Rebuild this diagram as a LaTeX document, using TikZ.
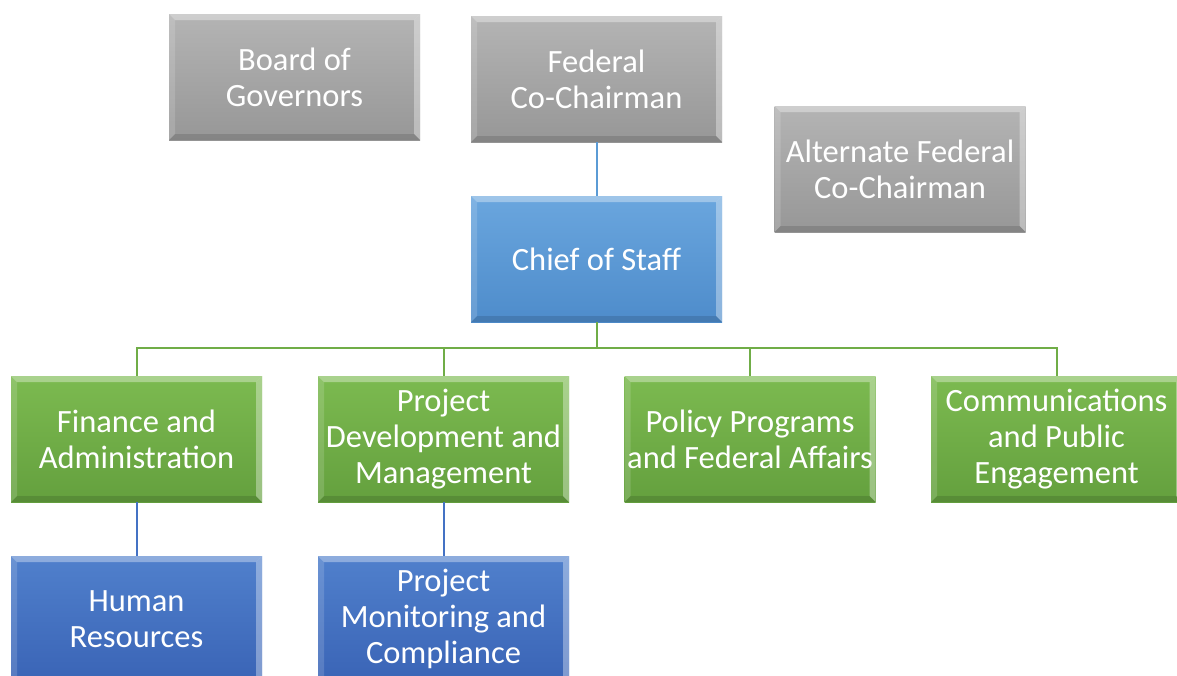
\documentclass[tikz,border=0pt]{standalone}
\usepackage{fontspec}
\setmainfont{Carlito}
\definecolor{grayT}{HTML}{B4B4B4}
\definecolor{grayB}{HTML}{979797}
\definecolor{lblueT}{HTML}{6AA6DE}
\definecolor{lblueB}{HTML}{4E8CCB}
\definecolor{greenT}{HTML}{7CBA50}
\definecolor{greenB}{HTML}{64A03E}
\definecolor{dblueT}{HTML}{5080CC}
\definecolor{dblueB}{HTML}{3A64B6}
\definecolor{lineblue}{HTML}{5B9BD5}
\definecolor{linegreen}{HTML}{70AD47}
\definecolor{linedblue}{HTML}{4472C4}
\tikzset{
  orgbox/.style={rectangle, minimum width=251pt, minimum height=126pt, inner sep=0pt,
    align=center, text=white, font=\fontsize{32.5}{36}\selectfont,
    path picture={
      \fill[white,opacity=0.35] (path picture bounding box.north west) -- (path picture bounding box.north east)
        -- ([xshift=-6pt,yshift=-6pt]path picture bounding box.north east) -- ([xshift=6pt,yshift=-6pt]path picture bounding box.north west) -- cycle;
      \fill[white,opacity=0.15] (path picture bounding box.north west) -- ([xshift=6pt,yshift=-6pt]path picture bounding box.north west)
        -- ([xshift=6pt,yshift=6pt]path picture bounding box.south west) -- (path picture bounding box.south west) -- cycle;
      \fill[white,opacity=0.35] (path picture bounding box.north east) -- ([xshift=-6pt,yshift=-6pt]path picture bounding box.north east)
        -- ([xshift=-6pt,yshift=6pt]path picture bounding box.south east) -- (path picture bounding box.south east) -- cycle;
      \fill[black,opacity=0.12] (path picture bounding box.south west) -- ([xshift=6pt,yshift=6pt]path picture bounding box.south west)
        -- ([xshift=-6pt,yshift=6pt]path picture bounding box.south east) -- (path picture bounding box.south east) -- cycle;
    }},
  graybox/.style={orgbox, top color=grayT, bottom color=grayB},
  lbluebox/.style={orgbox, top color=lblueT, bottom color=lblueB},
  greenbox/.style={orgbox, top color=greenT, bottom color=greenB},
  dbluebox/.style={orgbox, top color=dblueT, bottom color=dblueB},
  conn/.style={line width=2pt}
}
\begin{document}
\begin{tikzpicture}[x=1pt,y=-1pt]
\useasboundingbox (0,0) rectangle (1177,675);
\clip (0,0) rectangle (1177,675);
\fill[white] (0,0) rectangle (1177,675);
\node[graybox] (bog) at (294.5,77) {Board of\\Governors};
\node[graybox] (fcc) at (596.5,79) {Federal\\Co-Chairman};
\node[graybox] (afcc) at (900,169) {Alternate Federal\\Co-Chairman};
\node[lbluebox] (cos) at (596.5,259) {Chief of Staff};
\node[greenbox] (fa) at (136.5,439) {Finance and\\Administration};
\node[greenbox] (pdm) at (443.5,439) {Project\\Development and\\Management};
\node[greenbox] (ppfa) at (750,439) {Policy Programs\\and Federal Affairs};
\node[greenbox] (cpe) at (1056.5,439) {Communications\\and Public\\Engagement};
\node[dbluebox] (hr) at (136.5,619) {Human\\Resources};
\node[dbluebox] (pmc) at (443.5,619) {Project\\Monitoring and\\Compliance};
\coordinate (bus) at (0,348);
\draw[conn,lineblue] (fcc.south) -- (cos.north);
\draw[conn,linegreen] (cos.south) -- (cos.south |- bus) -| (fa.north);
\draw[conn,linegreen] (cos.south |- bus) -| (pdm.north);
\draw[conn,linegreen] (cos.south |- bus) -| (ppfa.north);
\draw[conn,linegreen] (cos.south |- bus) -| (cpe.north);
\draw[conn,linedblue] (fa.south) -- (hr.north);
\draw[conn,linedblue] (pdm.south) -- (pmc.north);
\end{tikzpicture}
\end{document}
